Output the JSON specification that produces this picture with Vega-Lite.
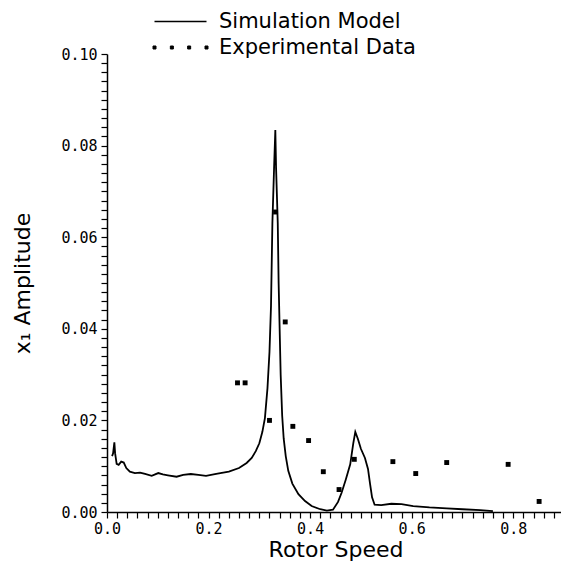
{
  "$schema": "https://vega.github.io/schema/vega-lite/v6.json",
  "width": 457,
  "height": 458,
  "autosize": {"type": "none"},
  "padding": {"left": 107, "top": 54, "right": 0, "bottom": 49},
  "background": "white",
  "config": {
    "view": {"stroke": null},
    "font": "DejaVu Sans",
    "axis": {
      "grid": false,
      "domainColor": "black",
      "domainWidth": 1.5,
      "tickColor": "black",
      "tickWidth": 1.2,
      "labelColor": "black",
      "labelFont": "DejaVu Sans Mono",
      "labelFontSize": 15,
      "labelOverlap": false,
      "labelBound": false,
      "labelFlush": false,
      "titleColor": "black",
      "titleFont": "DejaVu Sans",
      "titleFontSize": 22,
      "titleFontWeight": "normal"
    },
    "legend": {
      "labelFont": "DejaVu Sans",
      "labelFontSize": 21,
      "labelColor": "black",
      "labelLimit": 400
    }
  },
  "datasets": {
    "model": [
      {"speed": 0.010, "amp": 0.0122, "series": "Simulation Model"},
      {"speed": 0.012, "amp": 0.0128, "series": "Simulation Model"},
      {"speed": 0.0145, "amp": 0.0152, "series": "Simulation Model"},
      {"speed": 0.016, "amp": 0.0128, "series": "Simulation Model"},
      {"speed": 0.019, "amp": 0.0105, "series": "Simulation Model"},
      {"speed": 0.023, "amp": 0.0103, "series": "Simulation Model"},
      {"speed": 0.028, "amp": 0.0110, "series": "Simulation Model"},
      {"speed": 0.033, "amp": 0.0108, "series": "Simulation Model"},
      {"speed": 0.038, "amp": 0.0096, "series": "Simulation Model"},
      {"speed": 0.045, "amp": 0.0088, "series": "Simulation Model"},
      {"speed": 0.055, "amp": 0.0085, "series": "Simulation Model"},
      {"speed": 0.065, "amp": 0.0086, "series": "Simulation Model"},
      {"speed": 0.075, "amp": 0.0083, "series": "Simulation Model"},
      {"speed": 0.088, "amp": 0.0079, "series": "Simulation Model"},
      {"speed": 0.101, "amp": 0.0085, "series": "Simulation Model"},
      {"speed": 0.110, "amp": 0.0082, "series": "Simulation Model"},
      {"speed": 0.120, "amp": 0.0080, "series": "Simulation Model"},
      {"speed": 0.137, "amp": 0.0077, "series": "Simulation Model"},
      {"speed": 0.150, "amp": 0.0081, "series": "Simulation Model"},
      {"speed": 0.165, "amp": 0.0083, "series": "Simulation Model"},
      {"speed": 0.180, "amp": 0.0081, "series": "Simulation Model"},
      {"speed": 0.195, "amp": 0.0079, "series": "Simulation Model"},
      {"speed": 0.215, "amp": 0.0083, "series": "Simulation Model"},
      {"speed": 0.240, "amp": 0.0088, "series": "Simulation Model"},
      {"speed": 0.260, "amp": 0.0096, "series": "Simulation Model"},
      {"speed": 0.275, "amp": 0.0107, "series": "Simulation Model"},
      {"speed": 0.285, "amp": 0.0118, "series": "Simulation Model"},
      {"speed": 0.293, "amp": 0.0133, "series": "Simulation Model"},
      {"speed": 0.300, "amp": 0.0150, "series": "Simulation Model"},
      {"speed": 0.306, "amp": 0.0175, "series": "Simulation Model"},
      {"speed": 0.311, "amp": 0.0205, "series": "Simulation Model"},
      {"speed": 0.316, "amp": 0.0270, "series": "Simulation Model"},
      {"speed": 0.320, "amp": 0.0350, "series": "Simulation Model"},
      {"speed": 0.323, "amp": 0.0450, "series": "Simulation Model"},
      {"speed": 0.3257, "amp": 0.0630, "series": "Simulation Model"},
      {"speed": 0.329, "amp": 0.0750, "series": "Simulation Model"},
      {"speed": 0.3315, "amp": 0.0834, "series": "Simulation Model"},
      {"speed": 0.333, "amp": 0.0750, "series": "Simulation Model"},
      {"speed": 0.3363, "amp": 0.0630, "series": "Simulation Model"},
      {"speed": 0.338, "amp": 0.0500, "series": "Simulation Model"},
      {"speed": 0.340, "amp": 0.0400, "series": "Simulation Model"},
      {"speed": 0.342, "amp": 0.0300, "series": "Simulation Model"},
      {"speed": 0.345, "amp": 0.0210, "series": "Simulation Model"},
      {"speed": 0.348, "amp": 0.0160, "series": "Simulation Model"},
      {"speed": 0.352, "amp": 0.0122, "series": "Simulation Model"},
      {"speed": 0.357, "amp": 0.0090, "series": "Simulation Model"},
      {"speed": 0.365, "amp": 0.0062, "series": "Simulation Model"},
      {"speed": 0.377, "amp": 0.0039, "series": "Simulation Model"},
      {"speed": 0.390, "amp": 0.0024, "series": "Simulation Model"},
      {"speed": 0.403, "amp": 0.0013, "series": "Simulation Model"},
      {"speed": 0.420, "amp": 0.0006, "series": "Simulation Model"},
      {"speed": 0.433, "amp": 0.0003, "series": "Simulation Model"},
      {"speed": 0.445, "amp": 0.0005, "series": "Simulation Model"},
      {"speed": 0.455, "amp": 0.0022, "series": "Simulation Model"},
      {"speed": 0.462, "amp": 0.0042, "series": "Simulation Model"},
      {"speed": 0.470, "amp": 0.0070, "series": "Simulation Model"},
      {"speed": 0.479, "amp": 0.0104, "series": "Simulation Model"},
      {"speed": 0.485, "amp": 0.0150, "series": "Simulation Model"},
      {"speed": 0.489, "amp": 0.0175, "series": "Simulation Model"},
      {"speed": 0.494, "amp": 0.0160, "series": "Simulation Model"},
      {"speed": 0.500, "amp": 0.0138, "series": "Simulation Model"},
      {"speed": 0.508, "amp": 0.0118, "series": "Simulation Model"},
      {"speed": 0.514, "amp": 0.0094, "series": "Simulation Model"},
      {"speed": 0.518, "amp": 0.0062, "series": "Simulation Model"},
      {"speed": 0.522, "amp": 0.0032, "series": "Simulation Model"},
      {"speed": 0.527, "amp": 0.0016, "series": "Simulation Model"},
      {"speed": 0.540, "amp": 0.0015, "series": "Simulation Model"},
      {"speed": 0.560, "amp": 0.0018, "series": "Simulation Model"},
      {"speed": 0.580, "amp": 0.0017, "series": "Simulation Model"},
      {"speed": 0.603, "amp": 0.0013, "series": "Simulation Model"},
      {"speed": 0.635, "amp": 0.0010, "series": "Simulation Model"},
      {"speed": 0.669, "amp": 0.0008, "series": "Simulation Model"},
      {"speed": 0.700, "amp": 0.0006, "series": "Simulation Model"},
      {"speed": 0.735, "amp": 0.0004, "series": "Simulation Model"},
      {"speed": 0.760, "amp": 0.0002, "series": "Simulation Model"}
    ],
    "experiment": [
      {"speed": 0.257, "amp": 0.0282, "series": "Experimental Data"},
      {"speed": 0.272, "amp": 0.0282, "series": "Experimental Data"},
      {"speed": 0.320, "amp": 0.0200, "series": "Experimental Data"},
      {"speed": 0.332, "amp": 0.0655, "series": "Experimental Data"},
      {"speed": 0.351, "amp": 0.0415, "series": "Experimental Data"},
      {"speed": 0.366, "amp": 0.0187, "series": "Experimental Data"},
      {"speed": 0.397, "amp": 0.0156, "series": "Experimental Data"},
      {"speed": 0.426, "amp": 0.0088, "series": "Experimental Data"},
      {"speed": 0.457, "amp": 0.0049, "series": "Experimental Data"},
      {"speed": 0.487, "amp": 0.0115, "series": "Experimental Data"},
      {"speed": 0.563, "amp": 0.0110, "series": "Experimental Data"},
      {"speed": 0.608, "amp": 0.0084, "series": "Experimental Data"},
      {"speed": 0.669, "amp": 0.0108, "series": "Experimental Data"},
      {"speed": 0.790, "amp": 0.0104, "series": "Experimental Data"},
      {"speed": 0.851, "amp": 0.0023, "series": "Experimental Data"}
    ]
  },
  "resolve": {"scale": {"color": "independent"}, "legend": {"color": "independent"}},
  "layer": [
    {
      "data": {"name": "model"},
      "mark": {"type": "line", "strokeWidth": 1.8, "clip": true},
      "encoding": {
        "x": {
          "field": "speed",
          "type": "quantitative",
          "scale": {"domain": [0, 0.9], "nice": false, "zero": false},
          "axis": {
            "title": "Rotor  Speed",
            "values": [0,0.02,0.04,0.06,0.08,0.1,0.12,0.14,0.16,0.18,0.2,0.22,0.24,0.26,0.28,0.3,0.32,0.34,0.36,0.38,0.4,0.42,0.44,0.46,0.48,0.5,0.52,0.54,0.56,0.58,0.6,0.62,0.64,0.66,0.68,0.7,0.72,0.74,0.76,0.78,0.8,0.82,0.84,0.86,0.88],
            "tickCount": 1000,
            "labelExpr": "abs(datum.value*5 - round(datum.value*5)) < 1e-6 ? format(datum.value, '.1f') : ''",
            "labelOverlap": false,
            "tickSize": 6,
            "labelPadding": 3,
            "titlePadding": 3
          }
        },
        "y": {
          "field": "amp",
          "type": "quantitative",
          "scale": {"domain": [0, 0.1], "nice": false},
          "axis": {
            "title": "x₁  Amplitude",
            "values": [0,0.002,0.004,0.006,0.008,0.01,0.012,0.014,0.016,0.018,0.02,0.022,0.024,0.026,0.028,0.03,0.032,0.034,0.036,0.038,0.04,0.042,0.044,0.046,0.048,0.05,0.052,0.054,0.056,0.058,0.06,0.062,0.064,0.066,0.068,0.07,0.072,0.074,0.076,0.078,0.08,0.082,0.084,0.086,0.088,0.09,0.092,0.094,0.096,0.098,0.1],
            "tickCount": 1000,
            "labelExpr": "abs(datum.value*50 - round(datum.value*50)) < 1e-6 ? format(datum.value, '.2f') : ''",
            "labelOverlap": false,
            "tickSize": 6,
            "labelPadding": 4,
            "titlePadding": 26
          }
        },
        "color": {
          "field": "series",
          "type": "nominal",
          "scale": {"domain": ["Simulation Model"], "range": ["black"]},
          "legend": {
            "title": null,
            "orient": "none",
            "legendX": 63,
            "legendY": -43,
            "symbolType": "M-5.2,0H5.2",
            "symbolSize": 100,
            "symbolStrokeWidth": 1.6,
            "symbolStrokeColor": "black",
            "labelOffset": 28,
            "labelExpr": "replace(datum.label, ' ', '  ')"
          }
        }
      }
    },
    {
      "data": {"name": "experiment"},
      "mark": {"type": "point", "shape": "square", "filled": true, "size": 24, "opacity": 1},
      "encoding": {
        "x": {"field": "speed", "type": "quantitative"},
        "y": {"field": "amp", "type": "quantitative"},
        "color": {
          "field": "series",
          "type": "nominal",
          "scale": {"domain": ["Experimental Data"], "range": ["black"]},
          "legend": {
            "title": null,
            "orient": "none",
            "legendX": 63,
            "legendY": -17,
            "symbolType": "M-5.5,-0.3h0.6v0.6h-0.6Z M-2.03,-0.3h0.6v0.6h-0.6Z M1.43,-0.3h0.6v0.6h-0.6Z M4.9,-0.3h0.6v0.6h-0.6Z",
            "symbolSize": 100,
            "symbolFillColor": "black",
            "symbolStrokeColor": "black",
            "symbolStrokeWidth": 1,
            "symbolOpacity": 1,
            "labelOffset": 28,
            "labelExpr": "replace(datum.label, ' ', '  ')"
          }
        }
      }
    }
  ]
}
